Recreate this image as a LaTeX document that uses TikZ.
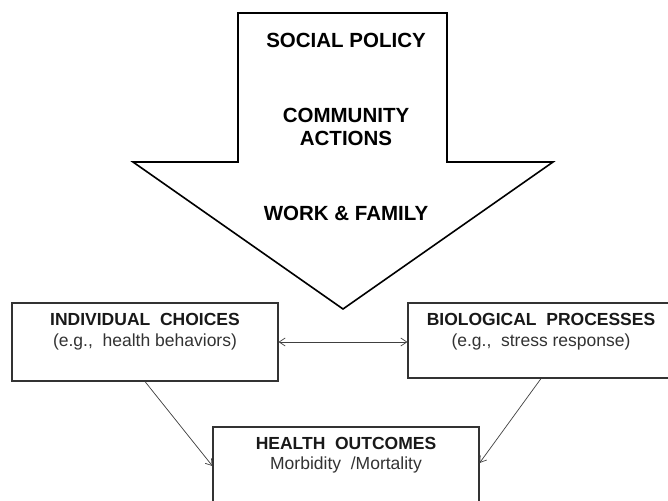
\documentclass[tikz,border=0pt]{standalone}
\usepackage{fontspec}
\setmainfont{Liberation Sans}
\usetikzlibrary{arrows.meta}
\begin{document}
\begin{tikzpicture}[x=1pt,y=1pt,
  bigtxt/.style={font=\fontsize{20.5}{24}\selectfont\bfseries, text=black},
  ttl/.style={font=\fontsize{17.5}{20}\selectfont\bfseries, text=black!90},
  sub/.style={font=\fontsize{17.5}{20}\selectfont, text=black!80},
  box/.style={draw=black!80, line width=1.1pt, fill=white, minimum width=266pt, minimum height=78pt, inner sep=0pt},
  conn/.style={draw=black!75, line width=0.7pt, -{Straight Barb[length=6pt,width=8pt]}}
]
\clip (0,0) rectangle (668,-500);
\fill[white] (0,0) rectangle (668,-500);
% big arrow
\draw[line width=1.6pt, line join=miter] (238,-13) -- (447,-13) -- (447,-162) -- (553,-162) -- (343,-309) -- (133,-162) -- (238,-162) -- cycle;
\node[bigtxt] (sp) at (346,-40) {SOCIAL POLICY};
\node[bigtxt, align=center] (ca) at (346,-127) {COMMUNITY\\[-1pt]ACTIONS};
\node[bigtxt] (wf) at (346,-213) {WORK \& FAMILY};
% boxes
\node[box] (ind) at (145,-342) {};
\node[ttl] (indT) at (145,-319) {INDIVIDUAL\ \ CHOICES};
\node[sub] (indS) at (145,-342) {(e.g.,\ \ health\ behaviors)};
\node[box, minimum height=75pt] (bio) at (541,-340.5) {};
\node[ttl] (bioT) at (541,-319) {BIOLOGICAL\ \ PROCESSES};
\node[sub] (bioS) at (541,-342) {(e.g.,\ \ stress\ response)};
\node[box] (hlth) at (346,-466) {};
\node[ttl] (hlthT) at (346,-443) {HEALTH\ \ OUTCOMES};
\node[sub] (hlthS) at (346,-465) {Morbidity\ \ /Mortality};
% connectors
\draw[conn, {Straight Barb[length=6pt,width=8pt]}-{Straight Barb[length=6pt,width=8pt]}] (ind.east) -- (ind.east -| bio.west);
\draw[conn] (ind.south) -- (hlth.west);
\draw[conn] (bio.south) -- (hlth.east |- 0,-463);
\end{tikzpicture}
\end{document}
